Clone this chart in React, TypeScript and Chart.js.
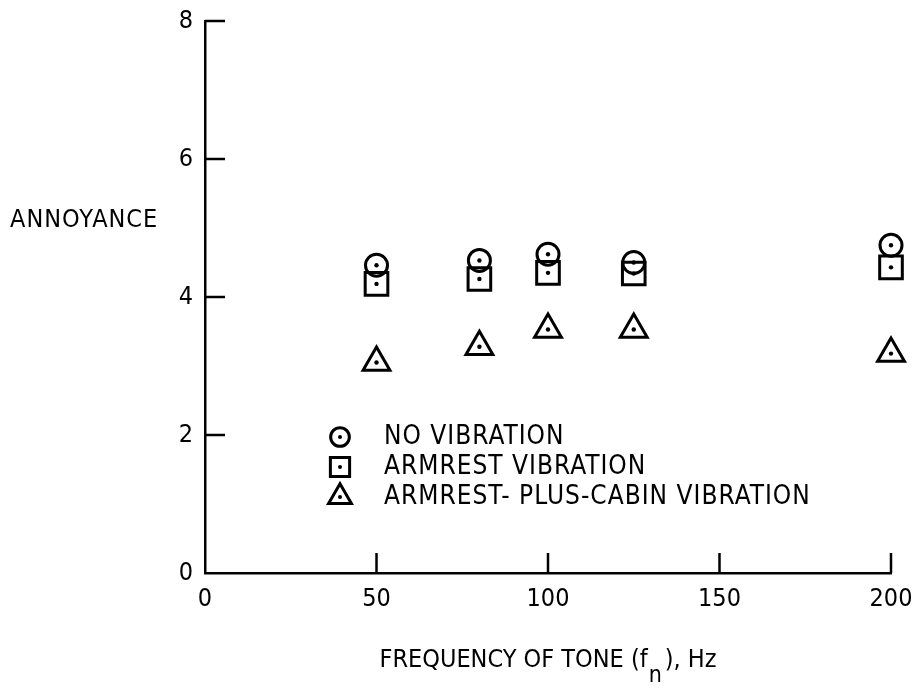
import React, { useEffect, useRef } from 'react';
import { Chart, registerables } from 'chart.js';
import { drawPoint } from 'chart.js/helpers';

Chart.register(...registerables);

// ---- data ----
const frequencies = [50, 80, 100, 125, 200];
const noVibration = [4.46, 4.53, 4.62, 4.5, 4.75];
const armrestVibration = [4.19, 4.26, 4.35, 4.34, 4.43];
const armrestPlusCabin = [3.05, 3.28, 3.53, 3.53, 3.18];
const seriesLabels = ['NO VIBRATION', 'ARMREST VIBRATION', 'ARMREST- PLUS-CABIN VIBRATION'];
const xTicks = [0, 50, 100, 150, 200];
const yTicks = [0, 2, 4, 6, 8];
const yTitle = 'ANNOYANCE';
const xTitleParts = ['FREQUENCY OF TONE (f', 'n', '), Hz'];

const FONT = "'Liberation Sans Narrow', 'DejaVu Sans Condensed', 'Roboto Condensed', 'Noto Sans', sans-serif";
const INK = '#000';
const LW = 3;

const markers = [
  { style: 'circle', radius: 11 },
  { style: 'rect', radius: 16 },
  { style: 'triangle', radius: 15.5 },
];

const seriesValues = [noVibration, armrestVibration, armrestPlusCabin];

const toPoints = (vals: number[]) => frequencies.map((f, i) => ({ x: f, y: vals[i] }));

const decorPlugin = {
  id: 'decor',
  afterDraw(chart: any) {
    const { ctx, scales, chartArea } = chart;
    const xs = scales.x;
    const ys = scales.y;
    ctx.save();
    ctx.strokeStyle = INK;
    ctx.fillStyle = INK;
    ctx.lineWidth = 2.5;
    // inward tick marks
    const tickLen = 20;
    xTicks.forEach((v) => {
      if (v === xTicks[0]) return;
      const px = xs.getPixelForValue(v);
      ctx.beginPath();
      ctx.moveTo(px, chartArea.bottom);
      ctx.lineTo(px, chartArea.bottom - tickLen);
      ctx.stroke();
    });
    yTicks.forEach((v) => {
      if (v === yTicks[0]) return;
      const py = ys.getPixelForValue(v);
      ctx.beginPath();
      ctx.moveTo(chartArea.left, py);
      ctx.lineTo(chartArea.left + tickLen, py);
      ctx.stroke();
    });

    // y title (horizontal, left)
    ctx.font = `25px ${FONT}`;
    (ctx as any).letterSpacing = '1px';
    ctx.textBaseline = 'middle';
    ctx.textAlign = 'left';
    ctx.fillText(yTitle, 10, 220);

    // x title with subscript
    (ctx as any).letterSpacing = '0px';
    ctx.font = `25px ${FONT}`;
    const w0 = ctx.measureText(xTitleParts[0]).width;
    ctx.font = `23px ${FONT}`;
    const w1 = ctx.measureText(xTitleParts[1]).width;
    ctx.font = `25px ${FONT}`;
    const w2 = ctx.measureText(xTitleParts[2]).width;
    const total = w0 + w1 + w2 + 4;
    let tx = (chartArea.left + chartArea.right) / 2 - total / 2;
    const ty = 660;
    ctx.fillText(xTitleParts[0], tx, ty);
    tx += w0 + 1;
    ctx.font = `23px ${FONT}`;
    ctx.fillText(xTitleParts[1], tx, ty + 16);
    tx += w1 + 3;
    ctx.font = `25px ${FONT}`;
    ctx.fillText(xTitleParts[2], tx, ty);

    // legend inside plot
    const rows = [437, 467, 497];
    seriesLabels.forEach((label, i) => {
      const mx = 340;
      const my = rows[i];
      ctx.lineWidth = LW;
      ctx.strokeStyle = INK;
      ctx.fillStyle = 'rgba(0,0,0,0)';
      drawPoint(ctx, { pointStyle: markers[i].style, radius: markers[i].radius * 0.85, borderWidth: LW, rotation: 0 } as any, mx, my);
      ctx.fillStyle = INK;
      ctx.beginPath();
      ctx.arc(mx, my, 2, 0, Math.PI * 2);
      ctx.fill();
      ctx.font = `26px ${FONT}`;
      (ctx as any).letterSpacing = '1px';
      ctx.fillText(label, 384, my);
    });
    ctx.restore();
  },
};

export default function App() {
  const ref = useRef<HTMLCanvasElement>(null);
  useEffect(() => {
    const canvas = ref.current;
    if (!canvas) return;
    const datasets: any[] = [];
    seriesValues.forEach((vals, i) => {
      datasets.push({
        label: seriesLabels[i],
        data: toPoints(vals),
        pointStyle: markers[i].style,
        pointRadius: markers[i].radius,
        borderColor: INK,
        backgroundColor: 'rgba(0,0,0,0)',
        pointBorderWidth: LW,
        showLine: false,
        clip: false,
      });
    });
    seriesValues.forEach((vals, i) => {
      datasets.push({
        label: seriesLabels[i] + ' centre',
        data: toPoints(vals),
        pointStyle: 'circle',
        pointRadius: 2.2,
        borderWidth: 0,
        pointBorderWidth: 0,
        backgroundColor: INK,
        borderColor: INK,
        showLine: false,
        clip: false,
      });
    });
    const chart = new Chart(canvas, {
      type: 'scatter',
      data: { datasets },
      options: {
        animation: false,
        responsive: true,
        maintainAspectRatio: false,
        layout: { padding: { left: 0, top: 21, right: 27, bottom: 0 } },
        plugins: { legend: { display: false }, tooltip: { enabled: false } },
        scales: {
          x: {
            type: 'linear',
            min: 0,
            max: 200,
            afterBuildTicks: (s: any) => {
              s.ticks = xTicks.map((v) => ({ value: v }));
            },
            afterFit: (s: any) => {
              s.height = 115;
              s.paddingLeft = 0;
              s.paddingRight = 0;
            },
            ticks: { color: INK, font: { family: FONT, size: 25 }, padding: 11, maxRotation: 0 },
            grid: { display: false, drawTicks: false },
            border: { display: true, color: INK, width: 2.5 },
          },
          y: {
            type: 'linear',
            min: 0,
            max: 8,
            afterBuildTicks: (s: any) => {
              s.ticks = yTicks.map((v) => ({ value: v }));
            },
            afterFit: (s: any) => {
              s.width = 205;
              s.paddingTop = 0;
              s.paddingBottom = 0;
            },
            ticks: { color: INK, font: { family: FONT, size: 25 }, padding: 12 },
            grid: { display: false, drawTicks: false },
            border: { display: true, color: INK, width: 2.5 },
          },
        },
      },
      plugins: [decorPlugin],
    });
    return () => chart.destroy();
  }, []);
  return (
    <div style={{ position: 'fixed', left: 0, top: 0, width: 918, height: 688, background: '#fff' }}>
      <canvas ref={ref} />
    </div>
  );
}
